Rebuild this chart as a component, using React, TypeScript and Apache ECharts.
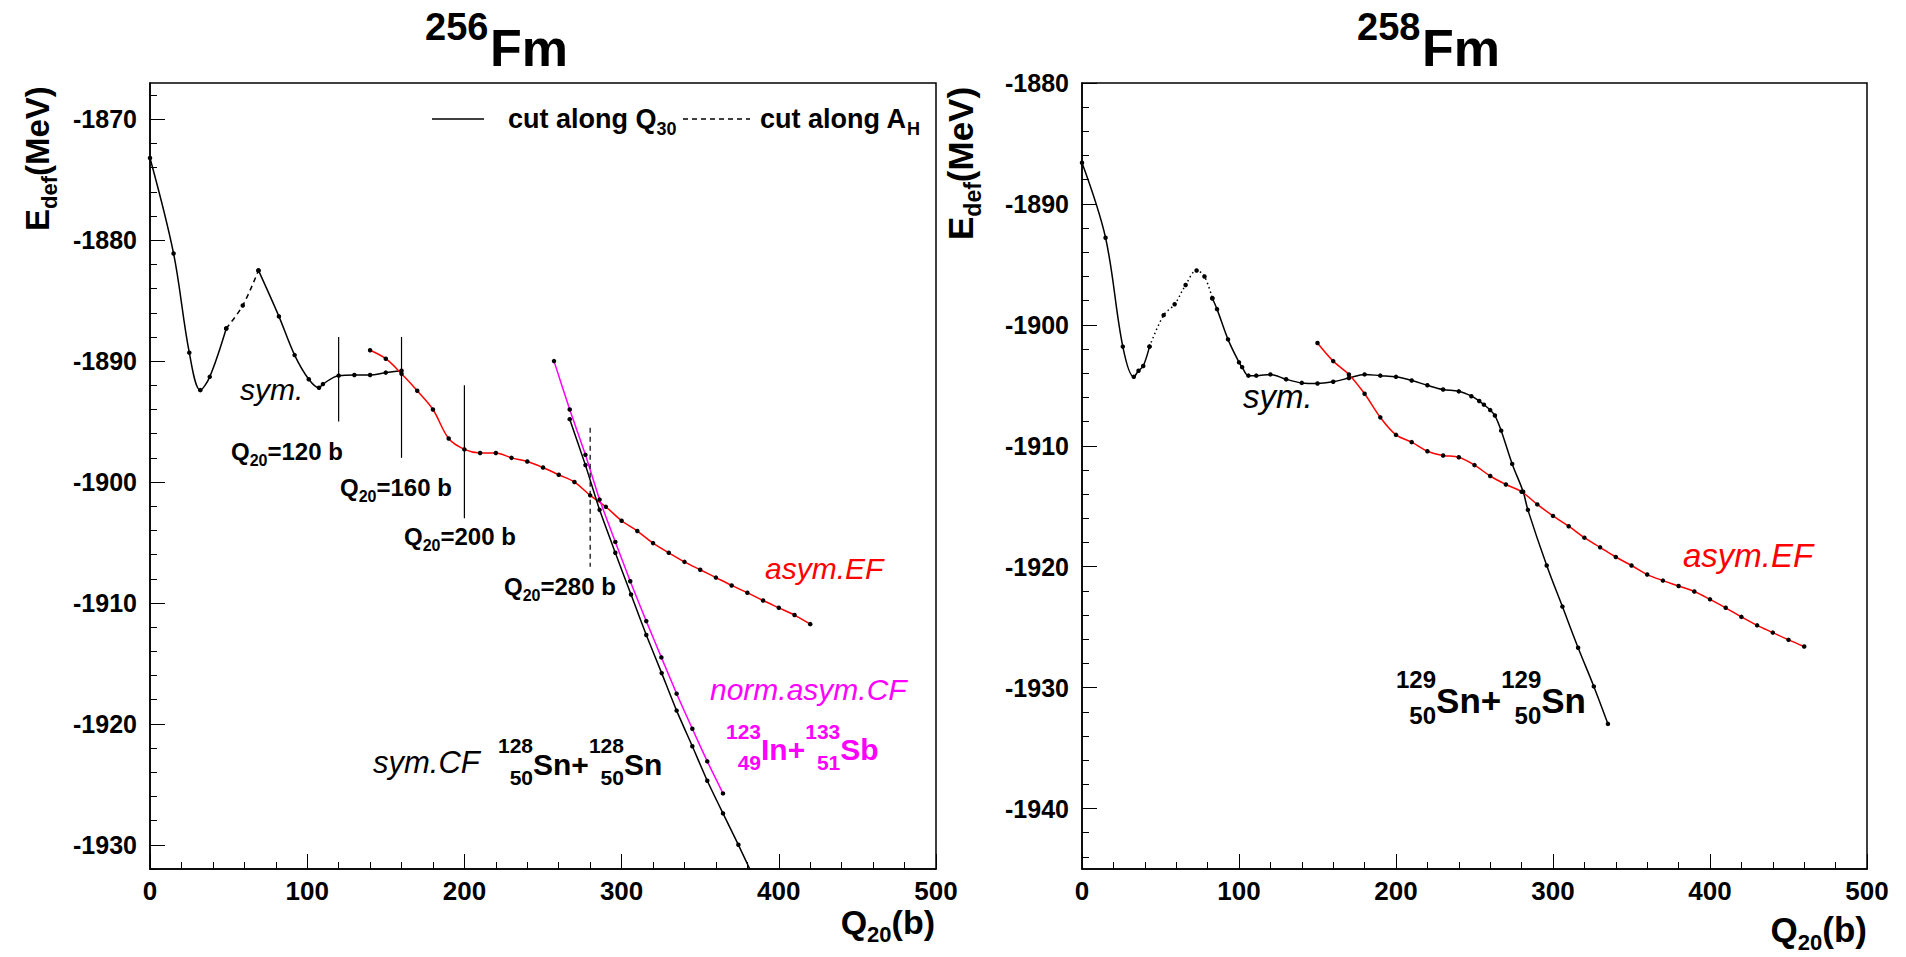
import React, { useEffect, useRef } from "react";
import * as echarts from "echarts";

const FONT = "'Liberation Sans', Arial, Helvetica, sans-serif";

// ---------- axes ----------
const xTickLabels = [0, 100, 200, 300, 400, 500];
const leftYRange = [-1932, -1867];
const rightYRange = [-1945, -1880];
const leftMajorY = [-1930, -1920, -1910, -1900, -1890, -1880, -1870];
const rightMajorY = [-1940, -1930, -1920, -1910, -1900, -1890, -1880];

// ---------- 256Fm ----------
const fm256SymA = [[0, -1873.2], [15, -1881.1], [25, -1889.3], [32, -1892.4], [38, -1891.3], [48.5, -1887.3]];
const fm256SymDashed = [[48.5, -1887.3], [59, -1885.4], [69, -1882.5]];
const fm256SymB = [[69, -1882.5], [82, -1886.3], [92, -1889.5], [101, -1891.5], [107.5, -1892.2], [110, -1891.9], [120, -1891.2], [130, -1891.15], [140, -1891.15], [150, -1890.95], [160, -1890.8]];
const fm256AsymQ = [140, 150, 160, 170, 180, 190, 200, 210, 220, 230, 240, 250, 260, 270, 280, 290, 300, 310, 320, 330, 340, 350, 360, 370, 380, 390, 400, 410, 420];
const fm256AsymE = [-1889.1, -1889.8, -1891.05, -1892.45, -1894.0, -1896.4, -1897.3, -1897.6, -1897.6, -1898.0, -1898.3, -1898.8, -1899.4, -1900.0, -1901.1, -1902.05, -1903.2, -1904.05, -1905.05, -1905.85, -1906.6, -1907.25, -1907.9, -1908.55, -1909.15, -1909.8, -1910.4, -1911.0, -1911.75];
const fm256SymCF = [[267, -1894.8], [277, -1898.6], [286, -1902.3], [296, -1905.85], [306, -1909.3], [315.7, -1912.65], [325.5, -1915.8], [335, -1918.9], [345, -1921.85], [354.5, -1924.7], [364.5, -1927.4], [374.3, -1930.0], [384, -1932.7]];
const fm256NormCF = [[257, -1890.0], [267, -1894.0], [277, -1897.75], [286, -1901.45], [296, -1904.95], [305.5, -1908.2], [315.7, -1911.5], [325.3, -1914.5], [335, -1917.5], [345, -1920.4], [354.5, -1923.1], [364.5, -1925.75]];
const cut120 = [[120, -1888], [120, -1895]];
const cut160 = [[160, -1888], [160, -1898]];
const cut200 = [[200, -1892], [200, -1903]];
const cut280 = [[280, -1895.5], [280, -1907]];

// ---------- 258Fm ----------
const fm258SymA = [[0, -1886.6], [15, -1892.8], [26, -1901.8], [33, -1904.3], [36, -1903.8], [39, -1903.4], [43, -1901.8]];
const fm258SymDotted = [[43, -1901.8], [52, -1899.2], [59, -1898.3], [66, -1896.7], [73, -1895.5], [78, -1896.0], [83, -1897.8]];
const fm258SymB = [[83, -1897.8], [86, -1898.7], [93, -1901.2], [100, -1903.1], [102, -1903.5], [106, -1904.2], [111, -1904.2], [120, -1904.1], [130, -1904.5], [140, -1904.8], [150, -1904.85], [160, -1904.7], [170, -1904.4], [180, -1904.1], [190, -1904.2], [200, -1904.3], [210, -1904.6], [220, -1905.0], [230, -1905.35], [240, -1905.5], [248, -1905.9], [253, -1906.3], [256, -1906.6], [260, -1907.05], [263, -1907.5], [267, -1908.75], [274, -1911.5], [281, -1913.8], [284, -1915.3], [296, -1919.9], [306, -1923.3], [316, -1926.7], [326, -1929.9], [335, -1933.0]];
const fm258AsymQ = [150, 160, 170, 180, 190, 200, 210, 220, 230, 240, 250, 260, 270, 280, 290, 300, 310, 320, 330, 340, 350, 360, 370, 380, 390, 400, 410, 420, 430, 440, 450, 460];
const fm258AsymE = [-1901.5, -1903.0, -1904.1, -1905.7, -1907.65, -1909.1, -1909.7, -1910.45, -1910.8, -1910.95, -1911.6, -1912.5, -1913.2, -1913.8, -1914.85, -1915.8, -1916.65, -1917.6, -1918.4, -1919.2, -1919.9, -1920.65, -1921.15, -1921.6, -1922.05, -1922.7, -1923.4, -1924.15, -1924.85, -1925.45, -1926.05, -1926.6];

const zip = (q: number[], e: number[]) => q.map((v, i) => [v, e[i]]);

function minorTicks(range: number[]) {
  const out: number[] = [];
  for (let v = Math.ceil(range[0] / 2) * 2; v <= range[1]; v += 2) out.push(v);
  return out;
}

// ---------- text helpers ----------
let ctx: CanvasRenderingContext2D | null = null;
function tw(t: string, s: number, weight: string, italic: boolean) {
  if (!ctx) ctx = document.createElement("canvas").getContext("2d");
  ctx!.font = `${italic ? "italic " : ""}${weight} ${s}px ${FONT}`;
  return ctx!.measureText(t).width;
}
type Part = { t: string; s: number; dy?: number } | { sup: string; sub: string; s: number; supDy: number; subDy: number };
function txt(t: string, x: number, base: number, s: number, weight: string, italic: boolean, color: string) {
  return {
    type: "text",
    x,
    y: base - 0.35 * s,
    style: {
      text: t, fontSize: s, fontFamily: FONT, fontWeight: weight, fontStyle: italic ? "italic" : "normal",
      fill: color, align: "left", verticalAlign: "middle", textAlign: "left", textVerticalAlign: "middle",
    },
  };
}
function label(x: number, base: number, parts: Part[], opt: { bold?: boolean; italic?: boolean; color?: string; rot?: boolean; right?: boolean } = {}) {
  const weight = opt.bold ? "bold" : "normal";
  const italic = !!opt.italic;
  const color = opt.color || "#000";
  const kids: any[] = [];
  let cx = 0;
  for (const p of parts) {
    if ("sup" in p) {
      const w1 = tw(p.sup, p.s, weight, italic);
      const w2 = tw(p.sub, p.s, weight, italic);
      const w = Math.max(w1, w2);
      kids.push(txt(p.sup, cx + w - w1, p.supDy, p.s, weight, italic, color));
      kids.push(txt(p.sub, cx + w - w2, p.subDy, p.s, weight, italic, color));
      cx += w;
    } else {
      kids.push(txt(p.t, cx, p.dy || 0, p.s, weight, italic, color));
      cx += tw(p.t, p.s, weight, italic);
    }
  }
  if (opt.right) kids.forEach((k) => (k.x -= cx));
  return { type: "group", x, y: base, rotation: opt.rot ? Math.PI / 2 : 0, children: kids };
}

function line(data: number[][], xi: number, yi: number, color: string, dash: any, smooth: number | boolean, symbols = true, width = 1.5) {
  return {
    type: "line", xAxisIndex: xi, yAxisIndex: yi, data, smooth,
    symbol: symbols ? "circle" : "none", symbolSize: 4.5, showSymbol: symbols,
    itemStyle: { color: "#000" },
    lineStyle: { color, width, type: dash },
    clip: true, silent: true, z: 3,
  };
}

const tickFmt = (v: number) => String(v);

function xAxis(gi: number) {
  return {
    gridIndex: gi, type: "value", min: xTickLabels[0], max: xTickLabels[xTickLabels.length - 1], interval: 100,
    axisLine: { show: true, onZero: false, lineStyle: { color: "#000", width: 1.5 } },
    axisTick: { show: true, inside: true, length: 15, lineStyle: { color: "#000", width: 1 } },
    minorTick: { show: true, splitNumber: 5, length: 7, lineStyle: { color: "#000", width: 1 } },
    axisLabel: { color: "#000", fontFamily: FONT, fontWeight: "bold", fontSize: 26, margin: 9, formatter: tickFmt },
    splitLine: { show: false }, minorSplitLine: { show: false },
  };
}
function yAxes(gi: number, range: number[], major: number[]) {
  return [
    {
      gridIndex: gi, type: "value", min: range[0], max: range[1], position: "left",
      axisLine: { show: true, onZero: false, lineStyle: { color: "#000", width: 1.5 } },
      axisTick: { show: true, inside: true, length: 15, customValues: major, lineStyle: { color: "#000", width: 1 } },
      axisLabel: { color: "#000", fontFamily: FONT, fontWeight: "bold", fontSize: 25, margin: 13, customValues: major, formatter: tickFmt },
      splitLine: { show: false },
    },
    {
      gridIndex: gi, type: "value", min: range[0], max: range[1], position: "left",
      axisLine: { show: false },
      axisTick: { show: true, inside: true, length: 7, customValues: minorTicks(range), lineStyle: { color: "#000", width: 1 } },
      axisLabel: { show: false },
      splitLine: { show: false },
    },
  ];
}

export default function App() {
  const ref = useRef<HTMLDivElement>(null);
  useEffect(() => {
    const chart = echarts.init(ref.current!, null, { renderer: "svg" });
    const B = { bold: true };
    const graphic: any[] = [
      // titles
      label(425, 40, [{ t: "256", s: 38 }], B),
      label(490, 66, [{ t: "Fm", s: 52 }], B),
      label(1357, 40, [{ t: "258", s: 38 }], B),
      label(1422, 66, [{ t: "Fm", s: 52 }], B),
      // y axis titles
      label(49, 231, [{ t: "E", s: 33 }, { t: "def", s: 22, dy: 8 }, { t: "(MeV)", s: 33 }], { bold: true, rot: true }),
      label(973, 240, [{ t: "E", s: 35 }, { t: "def", s: 23, dy: 8 }, { t: "(MeV)", s: 35 }], { bold: true, rot: true }),
      // x axis titles
      label(935, 934, [{ t: "Q", s: 34 }, { t: "20", s: 22, dy: 8 }, { t: "(b)", s: 34 }], { bold: true, right: true }),
      label(1867, 942, [{ t: "Q", s: 35 }, { t: "20", s: 22, dy: 8 }, { t: "(b)", s: 35 }], { bold: true, right: true }),
      // legend
      { type: "line", shape: { x1: 432, y1: 119, x2: 484, y2: 119 }, style: { stroke: "#000", lineWidth: 1.5 } },
      label(508, 128, [{ t: "cut along Q", s: 27 }, { t: "30", s: 18, dy: 7 }], B),
      { type: "line", shape: { x1: 683, y1: 119, x2: 750, y2: 119 }, style: { stroke: "#000", lineWidth: 1.5, lineDash: [5, 4] } },
      label(760, 128, [{ t: "cut along A", s: 27 }, { t: "H", s: 18, dy: 7 }], B),
      // cut labels
      label(231, 460, [{ t: "Q", s: 24 }, { t: "20", s: 16, dy: 6 }, { t: "=120 b", s: 24 }], B),
      label(340, 496, [{ t: "Q", s: 24 }, { t: "20", s: 16, dy: 6 }, { t: "=160 b", s: 24 }], B),
      label(404, 545, [{ t: "Q", s: 24 }, { t: "20", s: 16, dy: 6 }, { t: "=200 b", s: 24 }], B),
      label(504, 595, [{ t: "Q", s: 24 }, { t: "20", s: 16, dy: 6 }, { t: "=280 b", s: 24 }], B),
      // 256 labels
      label(240, 400, [{ t: "sym.", s: 30 }], { italic: true }),
      label(765, 579, [{ t: "asym.EF", s: 30 }], { italic: true, color: "#ff0000" }),
      label(373, 773, [{ t: "sym.CF", s: 31 }], { italic: true }),
      label(498, 775, [{ sup: "128", sub: "50", s: 21, supDy: -22, subDy: 10 }, { t: "Sn+", s: 30 }, { sup: "128", sub: "50", s: 21, supDy: -22, subDy: 10 }, { t: "Sn", s: 30 }], B),
      label(710, 700, [{ t: "norm.asym.CF", s: 30 }], { italic: true, color: "#ff00ff" }),
      label(726, 760, [{ sup: "123", sub: "49", s: 21, supDy: -21, subDy: 10 }, { t: "In+", s: 30 }, { sup: "133", sub: "51", s: 21, supDy: -21, subDy: 10 }, { t: "Sb", s: 30 }], { bold: true, color: "#ff00ff" }),
      // 258 labels
      label(1243, 408, [{ t: "sym.", s: 33 }], { italic: true }),
      label(1683, 567, [{ t: "asym.EF", s: 33 }], { italic: true, color: "#ff0000" }),
      label(1396, 713, [{ sup: "129", sub: "50", s: 24, supDy: -25, subDy: 11 }, { t: "Sn+", s: 35 }, { sup: "129", sub: "50", s: 24, supDy: -25, subDy: 11 }, { t: "Sn", s: 35 }], B),
    ];

    chart.setOption({
      animation: false,
      backgroundColor: "#fff",
      grid: [
        { left: 150, top: 83, width: 786, height: 786, show: true, borderColor: "#000", borderWidth: 1.5, backgroundColor: "transparent" },
        { left: 1082, top: 83, width: 785, height: 786, show: true, borderColor: "#000", borderWidth: 1.5, backgroundColor: "transparent" },
      ],
      xAxis: [xAxis(0), xAxis(1)],
      yAxis: [...yAxes(0, leftYRange, leftMajorY), ...yAxes(1, rightYRange, rightMajorY)],
      series: [
        line(fm256SymA, 0, 0, "#000", "solid", 0.35),
        line(fm256SymDashed, 0, 0, "#000", [5, 4], 0.35),
        line(fm256SymB, 0, 0, "#000", "solid", 0.35),
        line(zip(fm256AsymQ, fm256AsymE), 0, 0, "#ff0000", "solid", 0.35),
        line(fm256SymCF, 0, 0, "#000", "solid", 0.2),
        line(fm256NormCF, 0, 0, "#ff00ff", "solid", 0.2),
        line(cut120, 0, 0, "#000", "solid", false, false, 1.2),
        line(cut160, 0, 0, "#000", "solid", false, false, 1.2),
        line(cut200, 0, 0, "#000", "solid", false, false, 1.2),
        line(cut280, 0, 0, "#000", [5, 4], false, false, 1.2),
        line(fm258SymA, 1, 2, "#000", "solid", 0.35),
        line(fm258SymDotted, 1, 2, "#000", [1.5, 3], 0.35),
        line(fm258SymB, 1, 2, "#000", "solid", 0.35),
        line(zip(fm258AsymQ, fm258AsymE), 1, 2, "#ff0000", "solid", 0.35),
      ],
      graphic,
    });
    return () => chart.dispose();
  }, []);
  return (
    <div style={{ position: "fixed", left: 0, top: 0, width: 1906, height: 957, background: "#fff" }}>
      <div ref={ref} style={{ width: 1906, height: 957 }} />
    </div>
  );
}
